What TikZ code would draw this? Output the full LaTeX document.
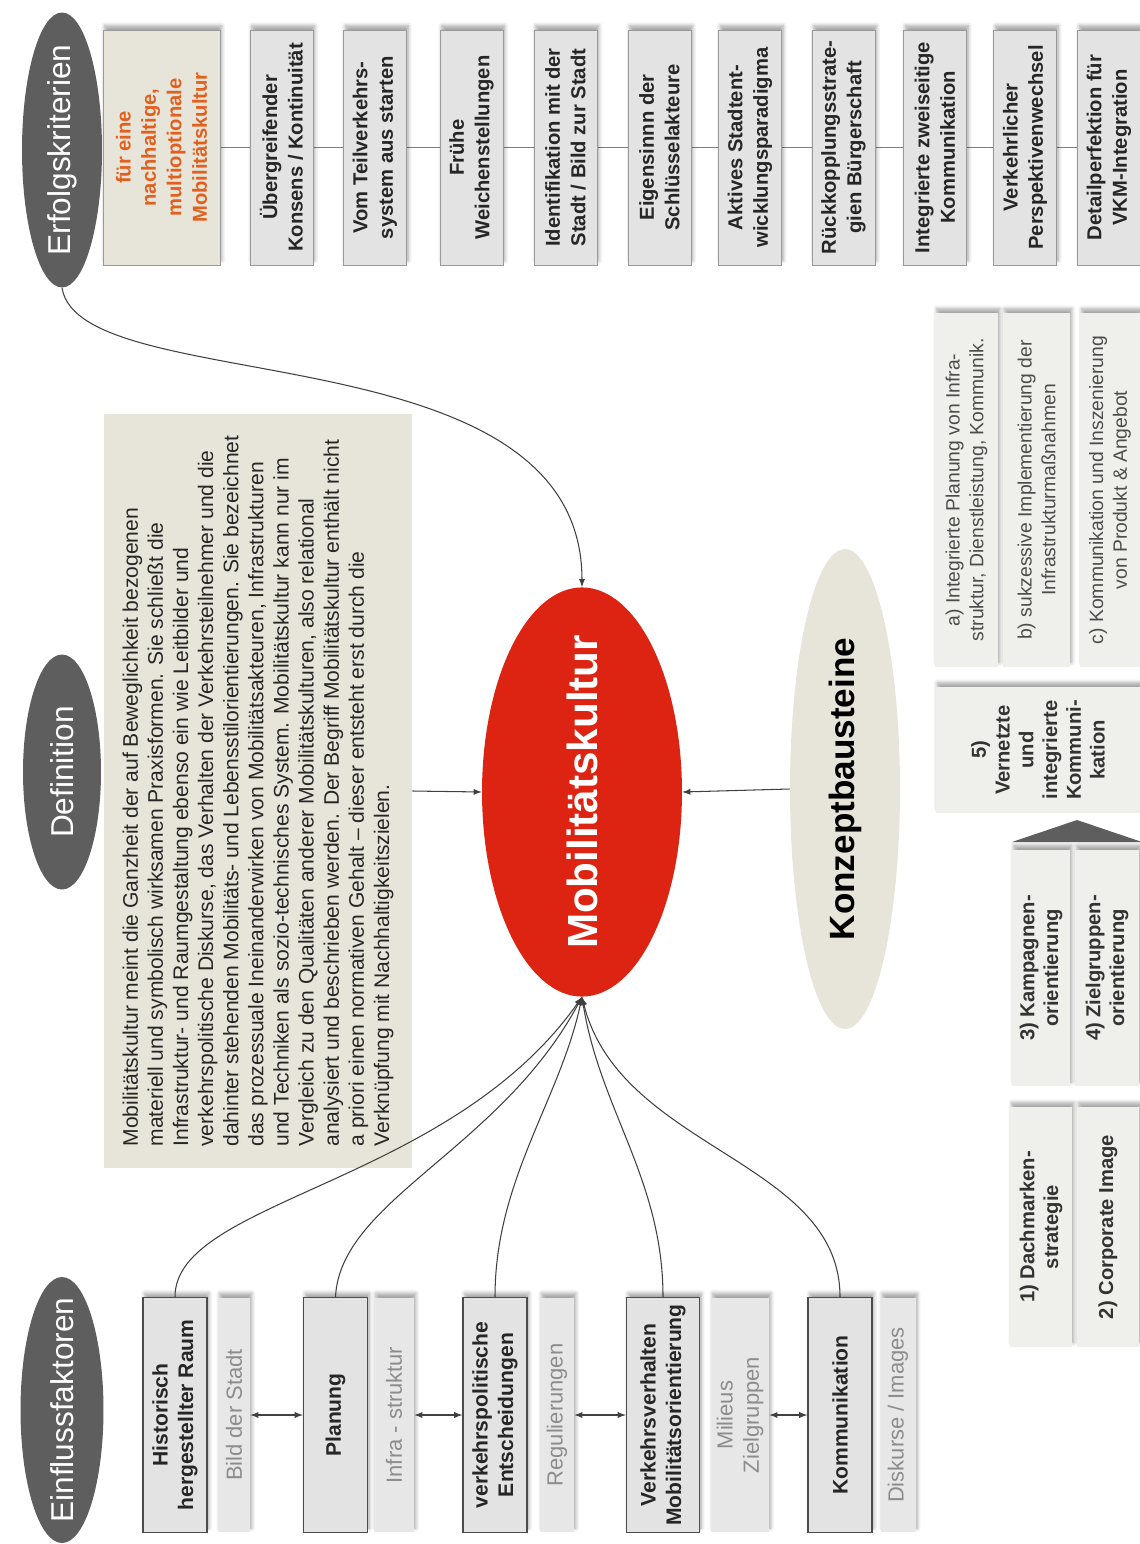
\documentclass[tikz,border=0pt]{standalone}
\usepackage{fontspec}
\setmainfont{Liberation Sans}
\usepackage{tikz}
\usetikzlibrary{shapes,shadows.blur}

\definecolor{headgray}{HTML}{5E5E5E}
\definecolor{mobred}{HTML}{DD2311}
\definecolor{beige}{HTML}{E7E5DA}
\definecolor{boxgray}{HTML}{E3E3E3}
\definecolor{sidegray}{HTML}{E7E7E7}
\definecolor{konzgray}{HTML}{EFEFEC}
\definecolor{critorange}{HTML}{E2601E}

\tikzset{
  boxshadow/.style={blur shadow={shadow xshift=1pt, shadow yshift=2.5pt,
      shadow blur steps=6, shadow opacity=35}},
  headell/.style={ellipse, rotate=90, fill=headgray, text=white, inner sep=0pt,
      font=\fontsize{18}{20}\selectfont},
  critbox/.style={rotate=90, draw=gray!80, fill=boxgray, boxshadow,
      minimum width=4.7cm, minimum height=1.26cm, inner sep=1pt, align=center,
      font=\fontsize{11.5}{14.5}\selectfont\bfseries, text=black!85},
  factorbox/.style={rotate=90, draw=black!70, line width=0.8pt, fill=boxgray, boxshadow,
      minimum width=4.7cm, minimum height=1.28cm, inner sep=1pt, align=center,
      font=\fontsize{12}{14.5}\selectfont\bfseries, text=black!85},
  sidebox/.style={rotate=90, fill=sidegray, boxshadow,
      minimum width=4.7cm, inner sep=1pt, align=center,
      font=\fontsize{12.5}{15}\selectfont, text=black!45},
  konzbox/.style={rotate=90, fill=konzgray, boxshadow, inner sep=1pt, align=center},
  link/.style={draw=black!75, line width=0.6pt},
}

\begin{document}
\begin{tikzpicture}[x=0.02cm,y=-0.02cm]

  \useasboundingbox (0,0) rectangle (1139,1544);

        % ellipses
  \node[headell, inner xsep=-6.5pt, minimum width=5.5cm, minimum height=1.6cm] (erfolg) at (62,150) {Erfolgskriterien};
  \node[headell, minimum width=4.7cm, minimum height=1.56cm] (defell) at (62,772) {Definition};
  \node[headell, inner xsep=-11pt, minimum width=5.32cm, minimum height=1.66cm] (einfl) at (62,1410) {Einflussfaktoren};

  \node[ellipse, rotate=90, fill=mobred, text=white, inner sep=0pt, inner xsep=-7pt,
    minimum width=8.1cm, minimum height=4cm,
  font=\fontsize{24}{26}\selectfont\bfseries] (mobil) at (582,792) {Mobilitätskultur};

  \node[ellipse, rotate=90, fill=beige, inner sep=0pt,
    minimum width=9.6cm, minimum height=2.2cm,
  font=\fontsize{20}{22}\selectfont\bfseries] (konzell) at (845,789) {Konzeptbausteine};

        % definition
  \node[rotate=90, fill=beige, minimum width=15.1cm, minimum height=6.16cm,
    align=left, text=black!85, font=\fontsize{12}{14.3}\selectfont] (defbox) at (258,791)
  {Mobilitätskultur meint die Ganzheit der auf Beweglichkeit bezogenen\\
    materiell und symbolisch wirksamen Praxisformen. Sie schließt die\\
    Infrastruktur- und Raumgestaltung ebenso ein wie Leitbilder und\\
    verkehrspolitische Diskurse, das Verhalten der Verkehrsteilnehmer und die\\
    dahinter stehenden Mobilitäts- und Lebensstilorientierungen. Sie bezeichnet\\
    das prozessuale Ineinanderwirken von Mobilitätsakteuren, Infrastrukturen\\
    und Techniken als sozio-technisches System. Mobilitätskultur kann nur im\\
    Vergleich zu den Qualitäten anderer Mobilitätskulturen, also relational\\
    analysiert und beschrieben werden. Der Begriff Mobilitätskultur enthält nicht\\
    a priori einen normativen Gehalt -- dieser entsteht erst durch die\\
  Verknüpfung mit Nachhaltigkeitszielen.};

        % success criteria
  \draw[draw=gray] (161.5,147.5) -- (1109,147.5);
  \node[critbox, fill=beige, minimum height=2.34cm, text=critorange] (crit1) at (161.5,147.5)
  {für eine\\nachhaltige,\\multioptionale\\Mobilitätskultur};
  \node[critbox] (crit2) at (281.5,147.5) {Übergreifender\\Konsens / Kontinuität};
  \node[critbox] (crit3) at (375,147.5) {Vom Teilverkehrs-\\system aus starten};
  \node[critbox] (crit4) at (471.5,147.5) {Frühe\\Weichenstellungen};
  \node[critbox] (crit5) at (565.5,147.5) {Identifikation mit der\\Stadt / Bild zur Stadt};
  \node[critbox] (crit6) at (659.5,147.5) {Eigensinnn der\\Schlüsselakteure};
  \node[critbox] (crit7) at (750,147.5) {Aktives Stadtent-\\wicklungsparadigma};
  \node[critbox] (crit8) at (843.5,147.5) {Rückkopplungsstrate-\\gien Bürgerschaft};
  \node[critbox] (crit9) at (935,147.5) {Integrierte zweiseitige\\Kommunikation};
  \node[critbox] (crit10) at (1025,147.5) {Verkehrlicher\\Perspektivenwechsel};
  \node[critbox] (crit11) at (1109,147.5) {Detailperfektion für\\VKM-Integration};

        % influence factors
  \node[factorbox] (hist) at (175,1415) {Historisch\\hergestellter Raum};
  \node[sidebox, minimum height=0.64cm] (bild) at (234,1415) {Bild der Stadt};
  \node[factorbox] (plan) at (335.5,1415) {Planung};
  \node[sidebox, minimum height=0.8cm] (infra) at (394,1415) {Infra - struktur};
  \node[factorbox] (vpol) at (495,1415) {verkehrspolitische\\Entscheidungen};
  \node[sidebox, minimum height=0.68cm] (regul) at (557,1415) {Regulierungen};
  \node[factorbox, minimum height=1.46cm] (vverh) at (663,1415) {Verkehrsverhalten\\Mobilitätsorientierung};
  \node[sidebox, minimum height=1.16cm] (milieu) at (740,1415) {Milieus\\Zielgruppen};
  \node[factorbox] (komm) at (840,1415) {Kommunikation};
  \node[sidebox, minimum height=0.7cm] (disk) at (898,1415) {Diskurse / Images};

  \draw[link, latex-latex] (bild) -- (plan);
  \draw[link, latex-latex] (infra) -- (vpol);
  \draw[link, latex-latex] (regul) -- (vverh);
  \draw[link, latex-latex] (milieu) -- (komm);

        % concept modules
  \begin{scope}[every node/.append style={font=\fontsize{11}{13.5}\selectfont, text=black!70}]
    \node[konzbox, minimum width=7.08cm, minimum height=1.26cm] (konza) at (966.5,490)
    {a) Integrierte Planung von Infra-\\struktur, Dienstleistung, Kommunik.};
    \node[konzbox, minimum width=7.08cm, minimum height=1.34cm] (konzb) at (1036.5,490)
    {b) sukzessive Implementierung der\\Infrastrukturmaßnahmen};
    \node[konzbox, minimum width=7.08cm, minimum height=1.2cm] (konzc) at (1110,490)
    {c) Kommunikation und Inszenierung\\von Produkt \& Angebot};
  \end{scope}

  \begin{scope}[every node/.append style={font=\fontsize{11.5}{13.5}\selectfont\bfseries, text=black!80}]
    \node[konzbox, minimum width=2.52cm, minimum height=4.1cm] (konz5) at (1038,750)
    {5)\\Vernetzte\\und\\integrierte\\Kommuni-\\kation};
    \node[konzbox, minimum width=4.74cm, minimum height=1.16cm] (konz3) at (1041,968)
    {3) Kampagnen-\\orientierung};
    \node[konzbox, minimum width=4.74cm, minimum height=1.28cm] (konz4) at (1107,968)
    {4) Zielgruppen-\\orientierung};
    \node[konzbox, minimum width=4.8cm, minimum height=1.24cm] (konz1) at (1041,1227)
    {1) Dachmarken-\\strategie};
    \node[konzbox, minimum width=4.8cm, minimum height=1.24cm] (konz2) at (1108,1227)
    {2) Corporate Image};
  \end{scope}

  \fill[headgray] (1077,820) -- (1012,842) -- (1142,842) -- cycle;

        % connectors
  \draw[link, -latex] (erfolg.west) .. controls +(18,113) and +(0,-260) .. (mobil.east);
  \draw[link, -latex] (defbox.south) -- (mobil.north);
  \draw[link, -latex] (konzell.north) -- (mobil.south);

  \draw[link, -latex] (hist.east) .. controls +(0,-97) and +(-132,188) .. (mobil.west);
  \draw[link, -latex] (plan.east) .. controls +(5,-97) and +(-82,153) .. (mobil.west);
  \draw[link, -latex] (vpol.east) .. controls +(0,-117) and +(-22,103) .. (mobil.west);
  \draw[link, -latex] (vverh.east) .. controls +(0,-117) and +(18,113) .. (mobil.west);
  \draw[link, -latex] (komm.east) .. controls +(0,-137) and +(38,153) .. (mobil.west);

\end{tikzpicture}
\end{document}
